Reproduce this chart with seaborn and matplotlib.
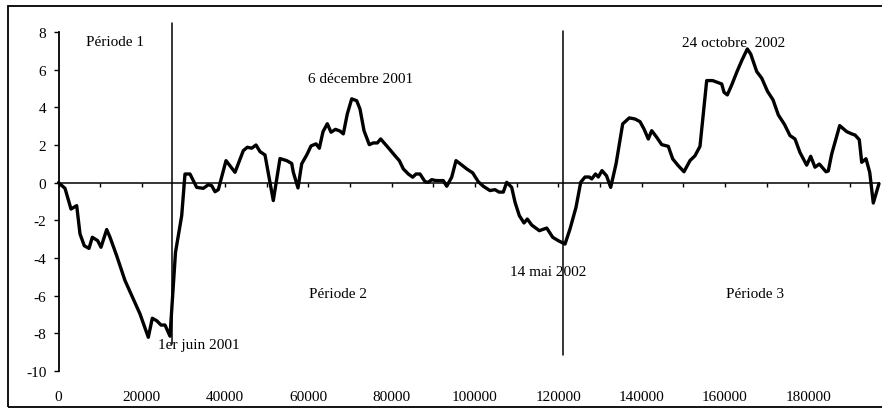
import numpy as np
import pandas as pd
import matplotlib
matplotlib.use("Agg")
import matplotlib.pyplot as plt
from matplotlib.patches import Rectangle
import seaborn as sns

# ---- data ----
x_vals = [0, 1560, 3000, 4370, 5160, 6190, 7320, 8120, 9410, 10200, 11570, 12370,
          13970, 15970, 17960, 19570, 21560, 22520, 23580, 24610, 25570, 26770,
          28090, 29580, 30370, 31570, 33180, 34770, 35970, 36780, 37580, 38370,
          40220, 42380, 44370, 45330, 46390, 47420, 48380, 49580, 51570, 53180,
          54790, 55990, 56380, 57500, 58390, 59670, 60630, 61830, 62620, 63510,
          64540, 65430, 66510, 67590, 68380, 69340, 70400, 71600, 72390, 73350,
          74620, 75590, 76550, 77360, 78390, 79590, 80790, 81830, 82790, 83990,
          85040, 85840, 86800, 88000, 88790, 89610, 90640, 92390, 93210, 94410,
          95440, 96810, 98010, 99450, 100790, 101990, 103600, 104800, 105760,
          106800, 107610, 108810, 109610, 110640, 111770, 112560, 113620, 115440,
          117220, 118660, 120000, 121610, 122810, 124250, 125380, 126410, 127440,
          128020, 128930, 129610, 130490, 131570, 132580, 133860, 135460, 137050,
          138420, 139620, 140580, 141610, 142430, 143630, 144830, 146410, 147470,
          148810, 150180, 151620, 152820, 154020, 154820, 155630, 157070, 158180,
          159240, 159790, 160580, 161640, 162840, 164040, 165380, 166200, 167640,
          168840, 170230, 171550, 172820, 174310, 175630, 176830, 178030, 179640,
          180600, 181630, 182670, 184270, 184820, 185640, 187560, 189250, 190450,
          191240, 192270, 192850, 193880, 194770, 195630, 197000]
y_vals = [0.0, -0.30, -1.40, -1.22, -2.72, -3.35, -3.49, -2.90, -3.08, -3.43, -2.49, -2.90,
          -3.88, -5.20, -6.18, -6.97, -8.21, -7.20, -7.33, -7.56, -7.56, -8.15,
          -3.70, -1.75, 0.46, 0.46, -0.25, -0.30, -0.11, -0.16, -0.48, -0.37,
          1.17, 0.55, 1.70, 1.88, 1.83, 2.00, 1.65, 1.47, -0.95, 1.28,
          1.17, 1.02, 0.55, -0.28, 1.00, 1.50, 1.95, 2.06, 1.83, 2.71,
          3.13, 2.68, 2.83, 2.74, 2.59, 3.65, 4.45, 4.35, 3.91, 2.76,
          2.02, 2.11, 2.11, 2.32, 2.06, 1.75, 1.43, 1.17, 0.73, 0.46,
          0.29, 0.46, 0.46, 0.05, 0.02, 0.16, 0.11, 0.11, -0.19, 0.29,
          1.17, 0.94, 0.73, 0.52, 0.05, -0.19, -0.42, -0.37, -0.50,
          -0.50, 0.02, -0.25, -1.04, -1.75, -2.14, -1.93, -2.25, -2.55,
          -2.41, -2.90, -3.08, -3.26, -2.46, -1.31, 0.02, 0.30, 0.30,
          0.20, 0.46, 0.30, 0.64, 0.37, -0.25, 0.99, 3.12, 3.44,
          3.38, 3.24, 2.85, 2.32, 2.76, 2.41, 2.02, 1.93, 1.26,
          0.90, 0.58, 1.17, 1.43, 1.93, 3.65, 5.42, 5.42, 5.33,
          5.24, 4.80, 4.66, 5.19, 5.86, 6.48, 7.10, 6.83, 5.90,
          5.55, 4.85, 4.40, 3.60, 3.09, 2.50, 2.32, 1.60, 0.93,
          1.40, 0.82, 0.99, 0.58, 0.62, 1.52, 3.03, 2.71, 2.59,
          2.53, 2.28, 1.08, 1.27, 0.55, -1.08, -0.05]

x_ticklabels = [0, 20000, 40000, 60000, 80000, 100000, 120000, 140000, 160000, 180000]
y_ticks = [-10, -8, -6, -4, -2, 0, 2, 4, 6, 8]

breaks_x = [27250, 121200]
breaks_y = [(-8.58, 8.48), (-9.13, 8.04)]

annotations = [
    ("Période 1", 13560, 7.52),
    ("1er juin 2001", 33740, -8.60),
    ("6 décembre 2001", 72510, 5.51),
    ("Période 2", 67180, -5.87),
    ("14 mai 2002", 117530, -4.73),
    ("Période 3", 167310, -5.87),
    ("24 octobre  2002", 162110, 7.42),
]

# ---- style ----
sns.set_style("white")
plt.rcParams["font.family"] = ["Liberation Serif", "DejaVu Serif"]
plt.rcParams["font.size"] = 11
plt.rcParams["axes.unicode_minus"] = False

fig = plt.figure(figsize=(8.82, 4.14), dpi=100)
ax = fig.add_axes([58.5 / 882, 1 - 372 / 414, (879 - 58.5) / 882, (372 - 33) / 414])

df = pd.DataFrame({"x": x_vals, "y": y_vals})
sns.lineplot(data=df, x="x", y="y", ax=ax, color="black", linewidth=2.4,
             sort=False, estimator=None, clip_on=False, zorder=3)

ax.set_xlim(0, 197000)
ax.set_ylim(-10, 8)
ax.set_xlabel("")
ax.set_ylabel("")

# spines
for s in ["top", "right"]:
    ax.spines[s].set_visible(False)
ax.spines["left"].set_linewidth(1.3)
ax.spines["left"].set_color("black")
ax.spines["bottom"].set_position(("data", 0))
ax.spines["bottom"].set_linewidth(1.1)
ax.spines["bottom"].set_color("black")

# y ticks
ax.set_yticks(y_ticks)
ax.tick_params(axis="y", direction="out", length=3.8, width=1.0, pad=5,
               colors="black", labelsize=11, left=True)

# x ticks on the zero line (no labels)
ax.set_xticks(np.arange(0, 197001, 10000))
ax.tick_params(axis="x", direction="out", length=3.0, width=1.0,
               labelbottom=False, bottom=True, colors="black")

# x tick labels at the bottom of the plot
sec = ax.secondary_xaxis(0)
sec.set_xticks(x_ticklabels)
sec.set_xticklabels([str(v) for v in x_ticklabels])
sec.tick_params(axis="x", length=0, pad=14, labelsize=11, colors="black")
sec.spines["bottom"].set_visible(False)

# vertical period separators
for bx, (y0, y1) in zip(breaks_x, breaks_y):
    ax.plot([bx, bx], [y0, y1], color="black", linewidth=1.1, clip_on=False, zorder=2)

# annotations
for txt, tx, ty in annotations:
    ax.text(tx, ty, txt, ha="center", va="center", fontsize=11, color="black", zorder=4)

ax.grid(False)

# outer frame
fig.patches.append(Rectangle((8 / 882, 1 - 408 / 414), (884 - 8) / 882, (408 - 7) / 414,
                             transform=fig.transFigure, fill=False,
                             edgecolor="black", linewidth=1.3))

fig.savefig("out.png", dpi=100)
